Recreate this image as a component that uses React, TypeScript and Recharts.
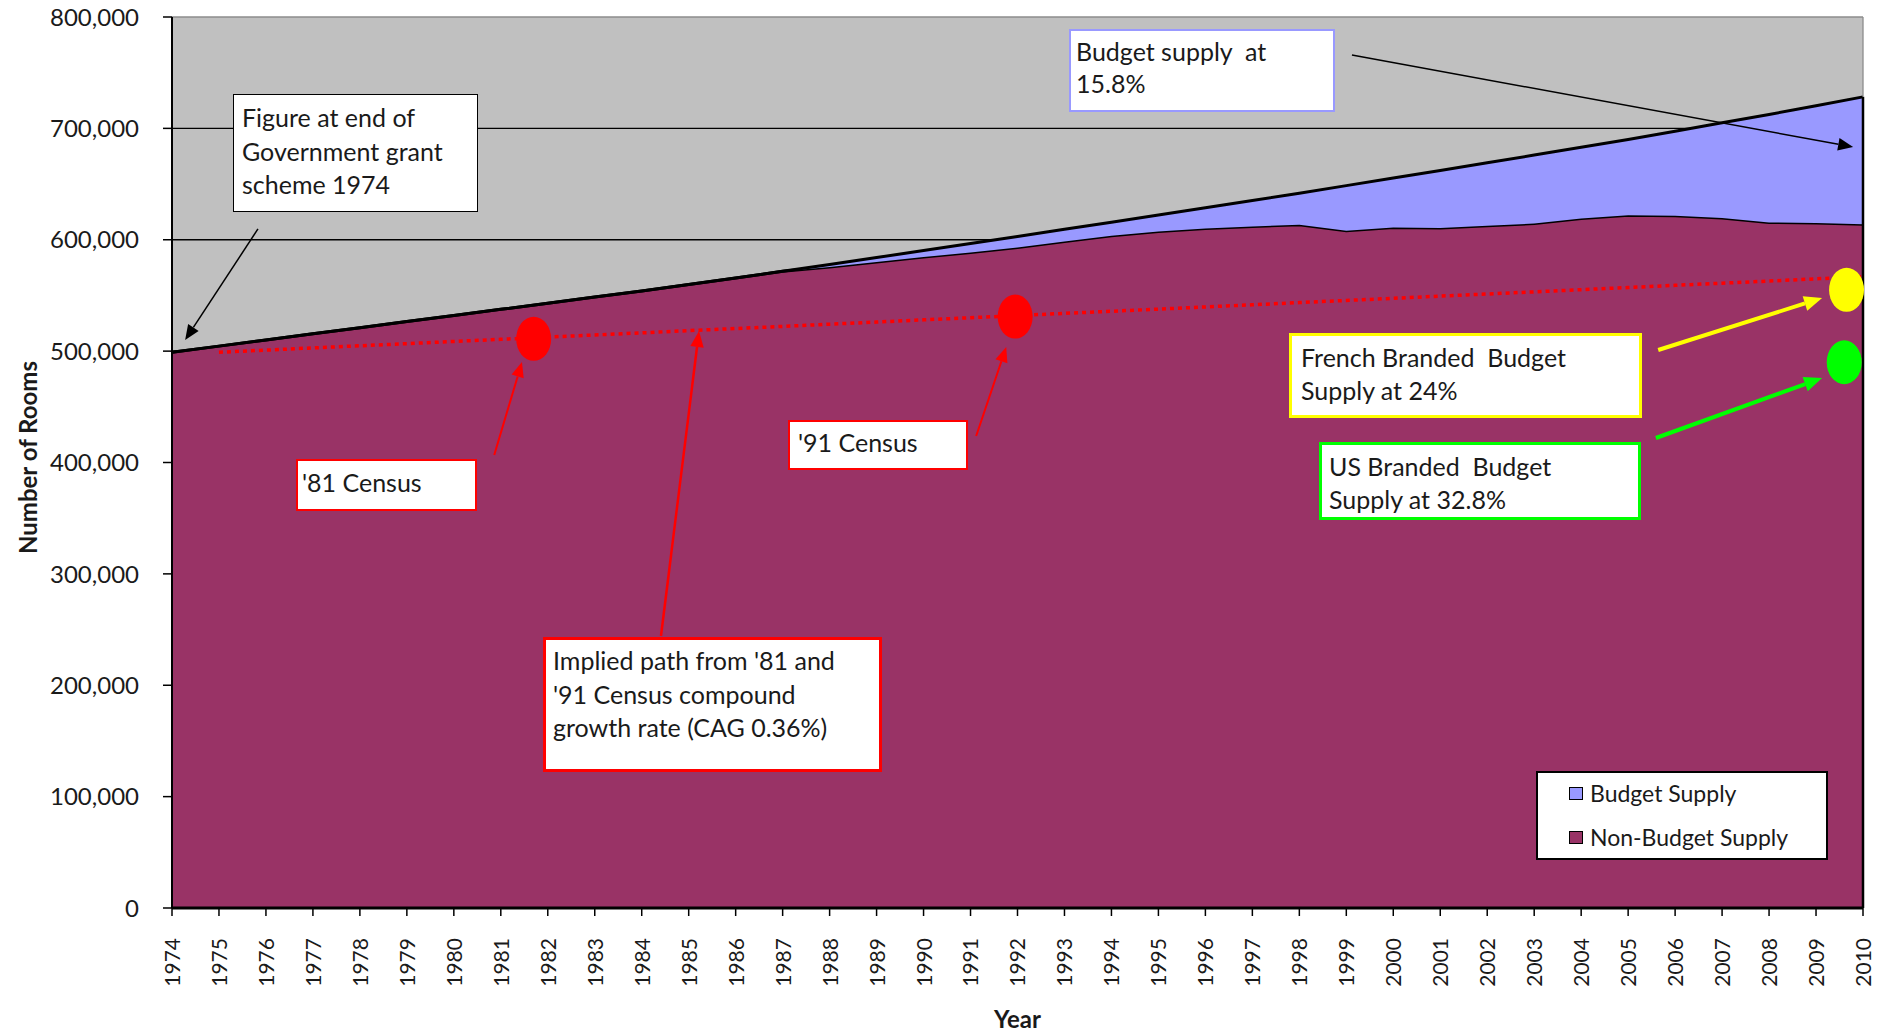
import React from 'react';
import {
    ComposedChart,
    Area,
    Line,
    XAxis,
    YAxis,
    CartesianGrid,
    Legend,
    Label,
    ReferenceDot,
    ReferenceLine,
} from 'recharts';

// years on the category axis
const years = [
    1974, 1975, 1976, 1977, 1978, 1979, 1980, 1981, 1982, 1983, 1984, 1985, 1986, 1987, 1988, 1989, 1990, 1991,
    1992, 1993, 1994, 1995, 1996, 1997, 1998, 1999, 2000, 2001, 2002, 2003, 2004, 2005, 2006, 2007, 2008, 2009, 2010,
];

const nonBudgetSupply = [
    499000, 504500, 510000, 515500, 521000, 526500, 532000, 537500, 543000, 548500, 554000, 559800, 565700, 571700,
    575500, 580000, 584500, 588500, 593000, 598500, 603500, 607500, 610000, 612000, 613500, 608000, 611000, 610500,
    612500, 614500, 619000, 622000, 621500, 619500, 615500, 615000, 614000,
];

const budgetSupply = [
    0, 0, 0, 0, 0, 0, 0, 0, 0, 0, 0, 0, 0, 0, 2300, 4000, 5800, 8100, 10000, 10900, 12300, 14800, 18800, 23300, 28300,
    40600, 44400, 51700, 56600, 61500, 64000, 68000, 76000, 85500, 97000, 105300, 114300,
];

// '81 -> '91 census implied path (dotted red), starts 1975
const impliedPath = [
    null, 499000, 500900, 502900, 504800, 506700, 508700, 510600, 512600, 514500, 516400, 518400, 520300, 522200,
    524200, 526100, 528100, 530000, 531900, 533900, 535800, 537700, 539700, 541600, 543600, 545500, 547400, 549400,
    551300, 553200, 555200, 557100, 559100, 561000, 562900, 564900, 566800,
];

const roomTicks = [0, 100000, 200000, 300000, 400000, 500000, 600000, 700000, 800000];

const seriesDefs = [
    { key: 'budget', name: 'Budget Supply', color: '#9999FF' },
    { key: 'nonBudget', name: 'Non-Budget Supply', color: '#993366' },
];

const markerDots = [
    { year: 1981.7, rooms: 511000, color: '#FF0000' },
    { year: 1991.95, rooms: 531000, color: '#FF0000' },
    { year: 2009.65, rooms: 555000, color: '#FFFF00' },
    { year: 2009.6, rooms: 490000, color: '#00FF00' },
];

// annotation arrows, in (year, rooms)
const arrows = [
    { from: [1975.83, 609700], to: [1974.28, 510000], color: '#000', w: 1.5, head: 15 },
    { from: [1999.12, 765900], to: [2009.79, 683300], color: '#000', w: 1.5, head: 15 },
    { from: [1980.86, 406700], to: [1981.45, 490200], color: '#FF0000', w: 2, head: 15 },
    { from: [1991.12, 423800], to: [1991.76, 503700], color: '#FF0000', w: 2, head: 15 },
    { from: [1984.41, 244200], to: [1985.22, 518100], color: '#FF0000', w: 2.5, head: 16 },
    { from: [2005.64, 501000], to: [2009.13, 547700], color: '#FFFF00', w: 4, head: 18 },
    { from: [2005.59, 422000], to: [2009.13, 475900], color: '#00FF00', w: 4, head: 18 },
];

const notes = [
    { lines: ['Figure at end of', 'Government grant', 'scheme 1974'], left: 233, top: 94, width: 245, height: 118, border: '#000', bw: 1.5, pt: 6, pl: 8, lh: 33.5 },
    { lines: ['Budget supply  at', '15.8%'], left: 1069, top: 29, width: 266, height: 83, border: '#9999FF', bw: 2.5, pt: 4, pl: 5, lh: 32 },
    { lines: ["'81 Census"], left: 296, top: 459, width: 181, height: 52, border: '#FF0000', bw: 2, pt: 5, pl: 4, lh: 33 },
    { lines: ["'91 Census"], left: 788, top: 420, width: 180, height: 50, border: '#FF0000', bw: 2, pt: 4, pl: 8, lh: 33 },
    { lines: ["Implied path from '81 and", "'91 Census compound", 'growth rate (CAG 0.36%)'], left: 543, top: 637, width: 339, height: 135, border: '#FF0000', bw: 3, pt: 4, pl: 7, lh: 33.5 },
    { lines: ['French Branded  Budget', 'Supply at 24%'], left: 1289, top: 333, width: 353, height: 85, border: '#FFFF00', bw: 3, pt: 5, pl: 9, lh: 32.5 },
    { lines: ['US Branded  Budget', 'Supply at 32.8%'], left: 1319, top: 442, width: 322, height: 78, border: '#00FF00', bw: 3, pt: 5, pl: 7, lh: 32.5 },
];

const data = years.map((year, i) => ({
    year,
    nonBudget: nonBudgetSupply[i],
    budget: budgetSupply[i],
    implied: impliedPath[i],
}));

const lastTotal = nonBudgetSupply[nonBudgetSupply.length - 1] + budgetSupply[budgetSupply.length - 1];

const FONT = 'Lato, "Open Sans", sans-serif';
const TEXT = '#1a1a1a';

function arrowShape(color: string, width: number, head: number) {
    return (p: any) => {
        const { x1, y1, x2, y2 } = p;
        if ([x1, y1, x2, y2].some((v) => typeof v !== 'number' || isNaN(v))) return <g />;
        const a = Math.atan2(y2 - y1, x2 - x1);
        const bx = x2 - head * Math.cos(a);
        const by = y2 - head * Math.sin(a);
        const hw = head * 0.42;
        const pts = `${x2},${y2} ${bx + hw * Math.sin(a)},${by - hw * Math.cos(a)} ${bx - hw * Math.sin(a)},${by + hw * Math.cos(a)}`;
        return (
            <g>
                <line x1={x1} y1={y1} x2={bx} y2={by} stroke={color} strokeWidth={width} />
                <polygon points={pts} fill={color} />
            </g>
        );
    };
}

const XTick = (p: any) => (
    <text
        x={p.x}
        y={p.y}
        transform={`rotate(-90, ${p.x}, ${p.y})`}
        textAnchor="end"
        dy="0.38em"
        fontSize={21}
        fontFamily={FONT}
        fill={TEXT}
    >
        {p.payload.value}
    </text>
);

const YTick = (p: any) => (
    <text x={p.x} y={p.y} textAnchor="end" dy="0.36em" fontSize={24} fontFamily={FONT} fill={TEXT}>
        {Number(p.payload.value).toLocaleString('en-US')}
    </text>
);

const GridLine = (p: any) => (
    <line
        key={p.key}
        x1={p.x1}
        y1={p.y1}
        x2={p.x2}
        y2={p.y2}
        stroke={p.y1 < 25 ? '#8c8c8c' : '#000'}
        strokeWidth={1.3}
    />
);

const LegendBox = () => (
    <div
        style={{
            border: '2px solid #000',
            background: '#fff',
            height: 89,
            boxSizing: 'border-box',
            paddingLeft: 31,
            fontFamily: FONT,
            fontSize: 23,
            color: TEXT,
        }}
    >
        {seriesDefs.map((s, i) => (
            <div key={s.key} style={{ display: 'flex', alignItems: 'center', height: 44, marginTop: i === 0 ? -2 : 0 }}>
                <span
                    style={{
                        display: 'inline-block',
                        width: 14,
                        height: 13,
                        background: s.color,
                        border: '1.5px solid #000',
                        boxSizing: 'border-box',
                        marginRight: 7,
                    }}
                />
                <span>{s.name}</span>
            </div>
        ))}
    </div>
);

export default function App() {
    return (
        <div style={{ position: 'absolute', left: 0, top: 0, width: 1889, height: 1032, background: '#fff', fontFamily: FONT }}>
            <ComposedChart width={1889} height={1032} data={data} margin={{ top: 17, right: 26, left: 52, bottom: 24 }}>
                <CartesianGrid vertical={false} horizontal={GridLine} fill="#C0C0C0" />
                <XAxis
                    dataKey="year"
                    type="number"
                    domain={[1974, 2010]}
                    ticks={years}
                    interval={0}
                    height={100}
                    tickSize={8}
                    tickMargin={22}
                    tick={XTick}
                    axisLine={{ stroke: '#000', strokeWidth: 3 }}
                    tickLine={{ stroke: '#000', strokeWidth: 1.5 }}
                >
                    <Label
                        content={({ viewBox }: any) => (
                            <text
                                x={viewBox.x + viewBox.width / 2}
                                y={viewBox.y + 110}
                                textAnchor="middle"
                                dominantBaseline="central"
                                fontSize={24}
                                fontWeight="bold"
                                fontFamily={FONT}
                                fill={TEXT}
                            >
                                Year
                            </text>
                        )}
                    />
                </XAxis>
                <YAxis
                    type="number"
                    domain={[0, 800000]}
                    ticks={roomTicks}
                    width={120}
                    tickSize={9}
                    tickMargin={24}
                    tick={YTick}
                    axisLine={{ stroke: '#000', strokeWidth: 2 }}
                    tickLine={{ stroke: '#000', strokeWidth: 1.5 }}
                >
                    <Label
                        content={({ viewBox }: any) => {
                            const cx = viewBox.x - 25;
                            const cy = viewBox.y + viewBox.height / 2 - 5;
                            return (
                                <text
                                    transform={`translate(${cx}, ${cy}) rotate(-90)`}
                                    textAnchor="middle"
                                    dominantBaseline="central"
                                    fontSize={24}
                                    fontWeight="bold"
                                    fontFamily={FONT}
                                    fill={TEXT}
                                >
                                    Number of Rooms
                                </text>
                            );
                        }}
                    />
                </YAxis>
                {[...seriesDefs].reverse().map((s) => (
                    <Area
                        key={s.key}
                        type="linear"
                        dataKey={s.key}
                        name={s.name}
                        stackId="supply"
                        fill={s.color}
                        fillOpacity={1}
                        stroke="#000"
                        strokeWidth={3}
                        isAnimationActive={false}
                    />
                ))}
                <Line
                    type="linear"
                    dataKey="implied"
                    stroke="#FF0000"
                    strokeWidth={3.5}
                    strokeDasharray="4 4"
                    dot={false}
                    activeDot={false}
                    legendType="none"
                    isAnimationActive={false}
                />
                <ReferenceLine
                    segment={[{ x: 2010, y: 0 }, { x: 2010, y: lastTotal }]}
                    stroke="#000"
                    strokeWidth={2.5}
                />
                <ReferenceLine
                    segment={[{ x: 2010, y: lastTotal }, { x: 2010, y: 800000 }]}
                    stroke="#8c8c8c"
                    strokeWidth={1.3}
                />
                {markerDots.map((d, i) => (
                    <ReferenceDot
                        key={`dot-${i}`}
                        x={d.year}
                        y={d.rooms}
                        shape={(p: any) => <ellipse cx={p.cx} cy={p.cy} rx={17.5} ry={22} fill={d.color} />}
                    />
                ))}
                {arrows.map((a, i) => (
                    <ReferenceLine
                        key={`arrow-${i}`}
                        segment={[{ x: a.from[0], y: a.from[1] }, { x: a.to[0], y: a.to[1] }]}
                        shape={arrowShape(a.color, a.w, a.head)}
                    />
                ))}
                <Legend
                    layout="vertical"
                    align="center"
                    verticalAlign="middle"
                    wrapperStyle={{ left: 1536, top: 771, width: 292, height: 89 }}
                    content={() => <LegendBox />}
                />
            </ComposedChart>
            {notes.map((n, i) => (
                <div
                    key={i}
                    style={{
                        position: 'absolute',
                        left: n.left,
                        top: n.top,
                        width: n.width,
                        height: n.height,
                        boxSizing: 'border-box',
                        border: `${n.bw}px solid ${n.border}`,
                        background: '#fff',
                        paddingTop: n.pt,
                        paddingLeft: n.pl,
                        fontSize: 25,
                        lineHeight: `${n.lh}px`,
                        color: TEXT,
                        whiteSpace: 'pre',
                    }}
                >
                    {n.lines.join('\n')}
                </div>
            ))}
        </div>
    );
}
